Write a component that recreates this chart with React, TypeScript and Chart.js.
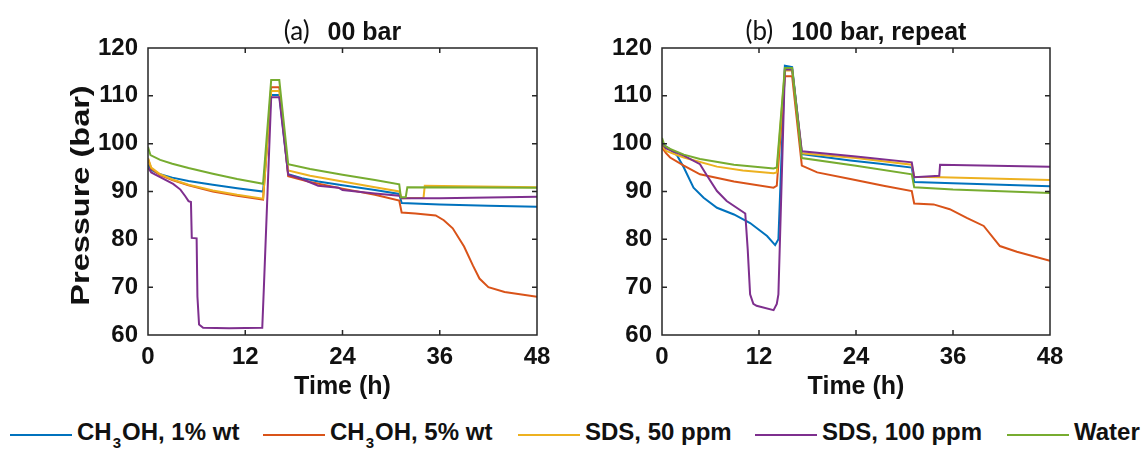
import React, { useEffect, useRef } from "react";
import { Chart, registerables } from "chart.js";
Chart.register(...registerables);

const SERIES_LABELS = ["CH3OH, 1% wt", "CH3OH, 5% wt", "SDS, 50 ppm", "SDS, 100 ppm", "Water"];
const SERIES_COLORS = ["#0072BD", "#D95319", "#EDB120", "#7E2F8E", "#77AC30"];
const X_TICKS = [0, 12, 24, 36, 48];
const Y_TICKS = [60, 70, 80, 90, 100, 110, 120];
const PANEL_TAGS = ["(a)", "(b)"];
const PANEL_TITLES = ["00 bar", "100 bar, repeat"];
const X_TITLE = "Time (h)";
const Y_TITLE = "Pressure (bar)";

// ---------- Panel (a) ----------
const tA_meoh1 = [0, 0.4, 1.5, 3, 5, 8, 11, 14.2, 15.2, 16.2, 17.3, 19, 21, 24, 28, 31.0, 31.3, 36, 42, 48];
const pA_meoh1 = [95.6, 94.5, 93.6, 92.9, 92.2, 91.4, 90.7, 90.0, 110.2, 110.2, 93.6, 92.8, 92.1, 91.3, 90.3, 89.5, 87.6, 87.3, 87.0, 86.8];

const tA_meoh5 = [0, 0.4, 1.5, 3, 5, 8, 11, 14.2, 15.2, 16.2, 17.3, 20, 24, 28, 31.0, 31.3, 33, 35.5, 36.5, 37.6, 39, 40.1, 40.9, 42, 44, 48];
const pA_meoh5 = [96.8, 94.8, 93.4, 92.4, 91.3, 90.0, 89.1, 88.3, 111.8, 111.8, 93.2, 92.0, 90.6, 89.3, 88.1, 85.6, 85.4, 85.0, 84.0, 82.3, 78.5, 74.5, 71.8, 70.0, 69.0, 68.0];

const tA_sds50 = [0, 0.4, 1.5, 3, 5, 8, 11, 14.2, 15.2, 16.2, 17.3, 20, 24, 28, 31.0, 31.3, 34.0, 34.15, 48];
const pA_sds50 = [97.0, 95.0, 93.6, 92.5, 91.4, 90.2, 89.3, 88.5, 111.0, 111.0, 94.4, 93.3, 92.1, 90.9, 90.0, 88.6, 88.7, 91.2, 90.9];

const tA_sds100 = [0, 0.4, 1.5, 3.1, 4.0, 4.6, 5.0, 5.3, 5.4, 6.0, 6.1, 6.3, 6.8, 10, 14.1, 14.3, 15.2, 16.2, 17.3, 19, 21, 23.5, 24, 28, 31.0, 31.3, 36, 48];
const pA_sds100 = [95.0, 94.0, 93.0, 91.6, 90.4, 89.0, 88.0, 87.8, 80.3, 80.2, 68.0, 62.2, 61.5, 61.4, 61.5, 70.0, 109.7, 109.7, 93.5, 92.6, 91.2, 90.8, 90.3, 89.6, 89.1, 88.6, 88.6, 88.9];

const tA_water = [0, 0.3, 1.5, 3, 5, 8, 11, 14.2, 15.2, 16.2, 17.3, 20, 24, 28, 31.0, 31.2, 31.8, 32.0, 48];
const pA_water = [99.3, 97.6, 96.6, 95.8, 94.9, 93.7, 92.6, 91.6, 113.3, 113.3, 95.7, 94.7, 93.5, 92.4, 91.5, 88.8, 88.8, 90.9, 90.8];

// ---------- Panel (b) ----------
const tB_meoh1 = [0, 0.4, 1.0, 1.85, 2.7, 3.9, 5.15, 6.8, 8.9, 10.9, 13.0, 14.0, 14.4, 15.2, 16.1, 17.3, 20, 23.3, 27, 30.9, 31.2, 36, 48];
const pB_meoh1 = [100.5, 99.5, 98.8, 97.6, 95.0, 90.8, 88.7, 86.6, 85.2, 83.4, 80.7, 78.8, 80.0, 116.3, 116.0, 97.8, 97.2, 96.5, 95.8, 95.0, 92.0, 91.7, 91.1];

const tB_meoh5 = [0, 0.5, 1.0, 2.7, 4.7, 8.9, 13.8, 14.2, 15.2, 16.1, 17.3, 19.2, 23.3, 27.4, 30.9, 31.2, 33.6, 35.6, 37.7, 39.8, 41.8, 43.9, 48];
const pB_meoh5 = [99.2, 98.0, 97.1, 95.4, 93.6, 92.1, 90.8, 91.2, 114.1, 114.1, 95.4, 94.0, 92.6, 91.2, 90.1, 87.5, 87.3, 86.3, 84.5, 82.8, 78.6, 77.4, 75.5];

const tB_sds50 = [0, 0.5, 2.7, 6.8, 10, 13.8, 14.2, 15.2, 16.1, 17.3, 24, 30.9, 31.2, 34.5, 48];
const pB_sds50 = [99.5, 98.5, 97.1, 95.2, 94.4, 93.8, 94.0, 115.3, 115.3, 98.0, 97.0, 95.6, 93.1, 93.0, 92.4];

const tB_sds100 = [0, 0.5, 2.7, 4.7, 5.5, 6.8, 8.0, 10.3, 10.6, 10.9, 11.3, 11.7, 13.8, 14.2, 14.4, 15.2, 16.1, 17.3, 24, 30.9, 31.2, 34.3, 34.4, 48];
const pB_sds100 = [99.9, 99.0, 97.5, 95.7, 93.5, 90.1, 88.0, 85.4, 78.0, 68.5, 66.5, 66.1, 65.2, 66.5, 68.5, 115.5, 115.5, 98.4, 97.3, 96.1, 93.0, 93.3, 95.6, 95.2];

const tB_water = [0, 0.3, 1.0, 2.7, 4.7, 8.9, 13.8, 14.2, 15.2, 16.1, 17.3, 24, 30.9, 31.2, 36, 48];
const pB_water = [101.2, 99.6, 98.9, 97.7, 96.8, 95.6, 94.8, 95.0, 115.8, 115.8, 97.0, 95.4, 93.6, 90.9, 90.4, 89.7];

const PANEL_A = [[tA_meoh1, pA_meoh1], [tA_meoh5, pA_meoh5], [tA_sds50, pA_sds50], [tA_sds100, pA_sds100], [tA_water, pA_water]];
const PANEL_B = [[tB_meoh1, pB_meoh1], [tB_meoh5, pB_meoh5], [tB_sds50, pB_sds50], [tB_sds100, pB_sds100], [tB_water, pB_water]];

// layout (pixels)
const CANVAS_W = 573;
const CANVAS_H = 410;
const PLOT_TOP = 48;
const PLOT_BOTTOM = 335;
const LEGEND_X = [10, 263, 518, 755, 1007];

const FONT = "'Liberation Sans', Arial, sans-serif";

const framePlugin = {
  id: "frame",
  afterDraw(chart: any, _args: any, opts: any) {
    const { ctx, chartArea } = chart;
    const { left, right, top, bottom } = chartArea;
    const xs = chart.scales.x;
    const ys = chart.scales.y;
    ctx.save();
    ctx.strokeStyle = "#262626";
    ctx.lineWidth = 1.5;
    ctx.strokeRect(left, top, right - left, bottom - top);
    const L = 5;
    ctx.beginPath();
    X_TICKS.forEach((v) => {
      if (v <= xs.min || v >= xs.max) return;
      const px = xs.getPixelForValue(v);
      ctx.moveTo(px, bottom);
      ctx.lineTo(px, bottom - L);
      ctx.moveTo(px, top);
      ctx.lineTo(px, top + L);
    });
    Y_TICKS.forEach((v) => {
      if (v <= ys.min || v >= ys.max) return;
      const py = ys.getPixelForValue(v);
      ctx.moveTo(left, py);
      ctx.lineTo(left + L, py);
      ctx.moveTo(right, py);
      ctx.lineTo(right - L, py);
    });
    ctx.stroke();

    // title: tag (regular) + text (bold)
    const tagFont = "26px Lato, 'Liberation Sans', sans-serif";
    const boldFont = `bold 25px ${FONT}`;
    ctx.fillStyle = "#111";
    ctx.textBaseline = "alphabetic";
    ctx.font = tagFont;
    const w1 = ctx.measureText(opts.tag).width;
    ctx.font = boldFont;
    const w2 = ctx.measureText(opts.title).width;
    const gap = 18;
    const total = w1 + gap + w2;
    const cx = (left + right) / 2;
    const baseY = top - 8;
    ctx.textAlign = "left";
    ctx.font = tagFont;
    ctx.fillText(opts.tag, cx - total / 2, baseY);
    ctx.font = boldFont;
    ctx.fillText(opts.title, cx - total / 2 + w1 + gap, baseY);

    // y title (stretched along its length)
    if (opts.yTitle) {
      ctx.save();
      ctx.translate(82, (top + bottom) / 2 + 4);
      ctx.rotate(-Math.PI / 2);
      ctx.scale(1.25, 1);
      ctx.font = `bold 26px ${FONT}`;
      ctx.textAlign = "center";
      ctx.textBaseline = "middle";
      ctx.fillText(opts.yTitle, 0, 0);
      ctx.restore();
    }
    ctx.restore();
  },
};

function buildConfig(panel: number[][][], tag: string, title: string, yAxisWidth: number, padRight: number, yTitle: string | null) {
  const datasets = panel.map(([t, p], i) => ({
    label: SERIES_LABELS[i],
    data: t.map((x, k) => ({ x, y: p[k] })),
    borderColor: SERIES_COLORS[i],
    backgroundColor: SERIES_COLORS[i],
    borderWidth: 2,
    pointRadius: 0,
    tension: 0,
    fill: false,
    order: SERIES_LABELS.length - i,
  }));
  return {
    type: "line" as const,
    data: { datasets },
    plugins: [framePlugin],
    options: {
      responsive: false,
      animation: false,
      devicePixelRatio: 1,
      layout: { padding: { left: 0, right: padRight, top: PLOT_TOP, bottom: 0 } },
      plugins: {
        legend: { display: false },
        tooltip: { enabled: false },
        title: { display: false },
        frame: { tag, title, yTitle },
      },
      scales: {
        x: {
          type: "linear",
          min: 0,
          max: 48,
          border: { display: false },
          grid: { display: false, drawTicks: false },
          ticks: {
            stepSize: 12,
            padding: 8,
            color: "#111",
            font: { family: FONT, size: 24, weight: "bold" },
            maxRotation: 0,
          },
          title: {
            display: true,
            text: X_TITLE,
            color: "#111",
            font: { family: FONT, size: 25, weight: "bold" },
            padding: { top: 0, bottom: 8 },
          },
          afterFit: (s: any) => {
            s.height = CANVAS_H - PLOT_BOTTOM;
          },
        },
        y: {
          type: "linear",
          min: 60,
          max: 120,
          border: { display: false },
          grid: { display: false, drawTicks: false },
          ticks: {
            stepSize: 10,
            padding: 10,
            color: "#111",
            font: { family: FONT, size: 24, weight: "bold" },
          },
          afterFit: (s: any) => {
            s.width = yAxisWidth;
          },
        },
      },
    },
  };
}

function Panel({ panel, tag, title, left, yAxisWidth, padRight, yTitle }: any) {
  const ref = useRef<HTMLCanvasElement | null>(null);
  useEffect(() => {
    if (!ref.current) return;
    const chart = new Chart(ref.current, buildConfig(panel, tag, title, yAxisWidth, padRight, yTitle) as any);
    return () => chart.destroy();
  }, []);
  return (
    <canvas
      ref={ref}
      width={CANVAS_W}
      height={CANVAS_H}
      style={{ position: "absolute", left, top: 0, width: CANVAS_W, height: CANVAS_H }}
    />
  );
}

function LegendLabel({ text }: { text: string }) {
  const m = text.match(/^CH3OH(.*)$/);
  if (m) {
    return (
      <>
        CH<span style={{ fontSize: 15, position: "relative", top: 8, margin: "0 1px" }}>3</span>OH{m[1]}
      </>
    );
  }
  return <>{text}</>;
}

export default function App() {
  return (
    <div
      style={{
        position: "absolute",
        left: 0,
        top: 0,
        width: 1146,
        height: 449,
        background: "#fff",
        overflow: "hidden",
        fontFamily: FONT,
      }}
    >
      <Panel panel={PANEL_A} tag={PANEL_TAGS[0]} title={PANEL_TITLES[0]} left={0} yAxisWidth={148} padRight={36} yTitle={Y_TITLE} />
      <Panel panel={PANEL_B} tag={PANEL_TAGS[1]} title={PANEL_TITLES[1]} left={573} yAxisWidth={89} padRight={96} yTitle={null} />
      {SERIES_LABELS.map((lab, i) => (
        <div key={lab} style={{ position: "absolute", left: LEGEND_X[i], top: 420, height: 26, whiteSpace: "nowrap" }}>
          <div style={{ position: "absolute", left: 0, top: 14, width: 62, height: 2, background: SERIES_COLORS[i] }} />
          <div
            style={{
              position: "absolute",
              left: 67,
              top: 0,
              fontSize: 24,
              fontWeight: "bold",
              lineHeight: "24px",
              color: "#111",
            }}
          >
            <LegendLabel text={lab} />
          </div>
        </div>
      ))}
    </div>
  );
}
